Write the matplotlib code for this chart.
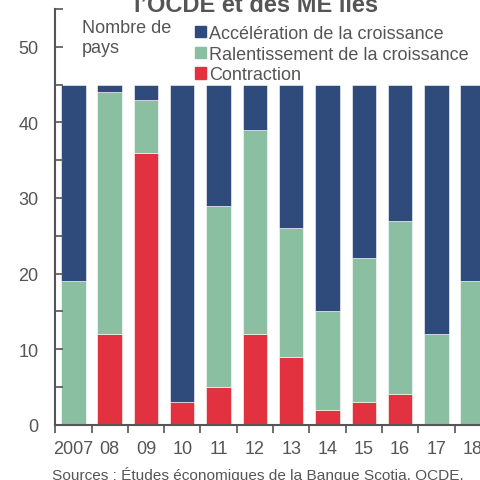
import matplotlib
matplotlib.use("Agg")
import matplotlib.pyplot as plt
from matplotlib.patches import Patch
import numpy as np

years = ['2007', '08', '09', '10', '11', '12', '13', '14', '15', '16', '17', '18']
contraction = [0, 12, 36, 3, 5, 12, 9, 2, 3, 4, 0, 0]
ralentissement = [19, 32, 7, 0, 24, 27, 17, 13, 19, 23, 12, 19]
acceleration = [26, 1, 2, 42, 16, 6, 19, 30, 23, 18, 33, 26]

blue = '#2E4B7C'
green = '#8BBFA2'
red = '#E3323F'
grey = '#555555'

plt.rcParams['font.family'] = ['Liberation Sans', 'DejaVu Sans']

fig = plt.figure(figsize=(4.8, 4.81), dpi=100)
ax = fig.add_axes([55.2 / 480, 1 - 425.7 / 481, (490.8 - 55.2) / 480, (425.7 - 10) / 481])

x = np.arange(len(years))
c = np.array(contraction)
r = np.array(ralentissement)
a = np.array(acceleration)
w = 0.67
ax.bar(x, c, w, color=red, edgecolor='white', linewidth=0.4)
ax.bar(x, r, w, bottom=c, color=green, edgecolor='white', linewidth=0.4)
ax.bar(x, a, w, bottom=c + r, color=blue, edgecolor='white', linewidth=0.4)

ax.set_xlim(-0.5, len(years) - 0.5)
ax.set_ylim(0, 55)
ax.set_yticks(np.arange(0, 56, 5))
ax.set_yticklabels([str(v) if v % 10 == 0 else '' for v in range(0, 56, 5)])
ax.set_xticks(x)
ax.set_xticklabels(years)
ax.set_xticks(np.arange(-0.5, len(years), 1), minor=True)
ax.tick_params(axis='x', which='major', length=0, pad=11, labelsize=13, labelcolor=grey)
ax.tick_params(axis='x', which='minor', length=6, width=1.2, direction='out', color=grey)
ax.tick_params(axis='y', which='major', length=6, width=1.2, direction='in', labelsize=13,
               labelcolor=grey, color=grey, pad=12)

for s in ['top', 'right']:
    ax.spines[s].set_visible(False)
for s in ['left', 'bottom']:
    ax.spines[s].set_color(grey)
    ax.spines[s].set_linewidth(1.5)

fig.text(82 / 480, 1 - 20 / 481, 'Nombre de\npays', fontsize=13,
         color=grey, va='top', ha='left', linespacing=1.2)

handles = [Patch(color=blue), Patch(color=green), Patch(color=red)]
labels = ['Accélération de la croissance', 'Ralentissement de la croissance', 'Contraction']
leg = fig.legend(handles, labels, loc='upper left', bbox_to_anchor=(195 / 480, 1 - 26 / 481),
                 frameon=False, fontsize=13, handlelength=0.6, handleheight=0.6,
                 handletextpad=0.2, labelspacing=0.2, borderpad=0, borderaxespad=0)
for t in leg.get_texts():
    t.set_color(grey)

fig.text(256 / 480, 1 - 12 / 481, 'l’OCDE et des ME liés', fontsize=17,
         fontweight='bold', color=grey, ha='center', va='baseline')
fig.text(52 / 480, 1 - 480 / 481, 'Sources : Études économiques de la Banque Scotia, OCDE.',
         fontsize=11.1, color=grey, ha='left', va='baseline')

fig.savefig('out.png', dpi=100)
